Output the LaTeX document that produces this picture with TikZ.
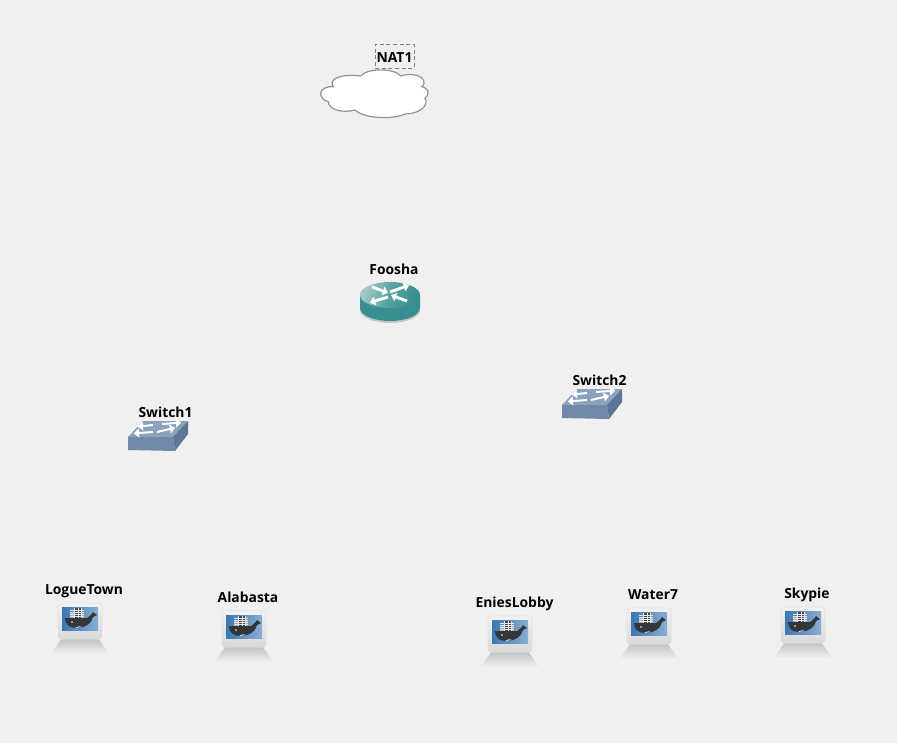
\documentclass[tikz,border=0pt]{standalone}
\usepackage{fontspec}
\setmainfont{Open Sans}
\definecolor{bgc}{HTML}{F0F0F0}
\definecolor{tealdark}{HTML}{37908F}
\definecolor{teallite}{HTML}{A4C8C8}
\definecolor{swfront}{HTML}{7089A8}
\definecolor{swtop}{HTML}{8AA2BC}
\definecolor{swside}{HTML}{5C7694}
\definecolor{screenblue}{HTML}{3A78B4}
\definecolor{whale}{HTML}{33363B}
\newcommand{\whitearrow}[5]{%
  \draw[white,line width=#5pt] (#1,#2) -- (#3,#4);
  \fill[white] ($(#3,#4)!-0.14cm!(#1,#2)$) -- ($(#3,#4)!0.12cm!90:(#1,#2)$) -- ($(#3,#4)!0.12cm!-90:(#1,#2)$) -- cycle;}
\usetikzlibrary{calc}
\tikzset{
  x=0.75pt,y=-0.75pt,
  lbl/.style={font=\bfseries\fontsize{10.4}{12}\selectfont,text=black,inner sep=0pt,anchor=base},
  natbox/.style={draw=gray,densely dashed,line width=0.5pt,minimum width=29.25pt,minimum height=18pt,inner sep=0pt},
  pics/router/.style={code={
    \fill[gray!45] (0,15) ellipse[x radius=30,y radius=13];
    \fill[tealdark] (-30,0) -- (30,0) -- (30,13) arc[x radius=30,y radius=13,start angle=0,end angle=180] -- cycle;
    \shade[left color=teallite,right color=tealdark,middle color=tealdark!85!white,shading angle=70] (0,0) ellipse[x radius=30,y radius=13];
    \whitearrow{-18}{-8}{-7}{-4}{2.2}
    \whitearrow{0}{-3}{14}{-8}{2.2}
    \whitearrow{-2}{2}{-15}{6}{2.2}
    \whitearrow{17}{6}{6}{2}{2.2}
  }},
  pics/swbox/.style={code={
    \fill[swtop] (0,16) -- (45,16) -- (60,0) -- (15,0) -- cycle;
    \fill[swfront] (0,16) -- (45,16) -- (47,30) -- (0,29) -- cycle;
    \fill[swside] (45,16) -- (60,0) -- (60,13) -- (47,30) -- cycle;
    \whitearrow{25}{4}{15}{5}{1.5}
    \whitearrow{34}{3}{48}{2}{1.5}
    \whitearrow{25}{11}{11}{12}{1.5}
    \whitearrow{29}{11}{42}{8}{1.5}
  }},
  pics/dockerhost/.style={code={
    \shade[top color=gray!50,bottom color=white!92!gray,rounded corners=2pt] (-18,35) -- (18,35) -- (30,52) -- (-30,52) -- cycle;
    \fill[gray!45] (-19,35) rectangle (19,38);
    \shade[top color=white!90!gray,bottom color=gray!30,draw=gray!25,line width=0.4pt,rounded corners=2pt] (-22,0) rectangle (22,36);
    \shade[left color=screenblue,right color=screenblue!60!white] (-18,4) rectangle (18,27);
    \fill[gray!65] (-10,9) rectangle (4,15);
    \fill[gray!55!black] (-6,5) rectangle (1,15);
    \foreach \yy in {7,9,11,13}{\draw[white!80!gray,line width=0.25pt] (-10,\yy) -- (4,\yy);}
    \foreach \xx in {-6,-2,1}{\draw[white!80!gray,line width=0.25pt] (\xx,5) -- (\xx,15);}
    \fill[whale] (-15,15) -- (7,15) .. controls (9,14) and (12,11) .. (13,9) -- (17,12) -- (13,14)
      .. controls (12,20) and (5,25) .. (-4,25) .. controls (-11,25) and (-15,21) .. (-15,15) -- cycle;
    \fill[white] (-8,19) circle[radius=0.9];
    \fill[white!85!gray] (-5,25) .. controls (-2,23) and (1,23) .. (2,24) -- cycle;
  }},
}
\begin{document}
\begin{tikzpicture}
\useasboundingbox (0,0) rectangle (897,743);
\fill[bgc] (0,0) rectangle (897,743);
% cloud
\begin{scope}[shift={(300,30)},x=0.25pt,y=-0.25pt]
\draw[fill=white,draw=gray!85,line width=0.9pt]
 (62,190) .. controls (62,175) and (85,168) .. (100,170)
 .. controls (85,150) and (115,130) .. (182,138)
 .. controls (200,115) and (280,112) .. (302,138)
 .. controls (330,128) and (375,135) .. (372,160)
 .. controls (370,166) and (368,168) .. (365,170)
 .. controls (385,175) and (392,190) .. (375,205)
 .. controls (388,225) and (360,252) .. (315,252)
 .. controls (285,268) and (195,268) .. (165,240)
 .. controls (130,250) and (85,240) .. (85,215)
 .. controls (70,212) and (62,200) .. (62,190) -- cycle;
\end{scope}
\node[natbox] (natframe) at (394.5,56) {};
\node[lbl] (nat) at (394.5,62) {NAT1};
% router
\pic (foosharouter) at (390,295) {router};
\node[lbl] (foosha) at (394,274) {Foosha};
% switches
\pic (sw1) at (128,421) {swbox};
\node[lbl] (switch1) at (165.5,417) {Switch1};
\pic (sw2) at (562,389) {swbox};
\node[lbl] (switch2) at (599.5,385) {Switch2};
% hosts
\pic (h1) at (80,603) {dockerhost};
\node[lbl] (logue) at (84,594) {LogueTown};
\pic (h2) at (244,611) {dockerhost};
\node[lbl] (alabasta) at (248,602) {Alabasta};
\pic (h3) at (510,616) {dockerhost};
\node[lbl] (enies) at (514.5,607) {EniesLobby};
\pic (h4) at (649,608) {dockerhost};
\node[lbl] (water) at (653,599) {Water7};
\pic (h5) at (803,607) {dockerhost};
\node[lbl] (skypie) at (807,598) {Skypie};
\end{tikzpicture}
\end{document}
